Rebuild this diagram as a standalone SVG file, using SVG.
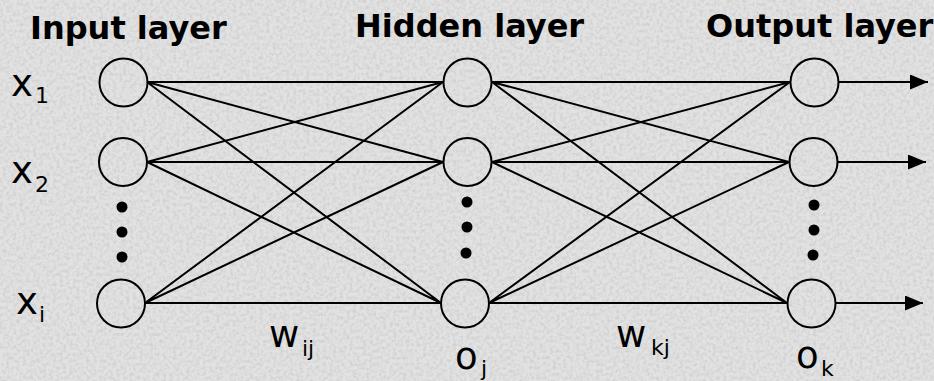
<svg xmlns="http://www.w3.org/2000/svg" width="934" height="381" viewBox="0 0 934 381">
<style>
.title{font-family:"DejaVu Sans",Verdana,sans-serif;font-weight:bold;font-size:32px;fill:#000}
.lbl{font-family:"DejaVu Sans",Verdana,sans-serif;font-size:37px;fill:#000}
.sub{font-size:22px}
.node{fill:none;stroke:#000;stroke-width:2}
.dot{fill:#000}
.edge{stroke:#000;stroke-width:2;fill:none}
</style>
<defs>
<filter id="noise" x="0" y="0" width="100%" height="100%">
<feTurbulence type="fractalNoise" baseFrequency="0.3" numOctaves="3" seed="7"/>
<feColorMatrix type="matrix" values="0 0 0 0 0.4  0 0 0 0 0.4  0 0 0 0 0.4  0 0 0 1.3 -0.5"/>
</filter>
<marker id="arr" viewBox="0 0 18 15" refX="18" refY="7.5" markerWidth="18" markerHeight="15" markerUnits="userSpaceOnUse" orient="auto">
<path d="M0,0 L18,7.5 L0,15 Z" fill="#000"/>
</marker>
</defs>
<rect width="934" height="381" fill="#e2e2e2"/>
<rect width="934" height="381" filter="url(#noise)" opacity="0.55"/>

<g id="titles">
<text class="title" x="30" y="39">Input layer</text>
<text class="title" x="355" y="37">Hidden layer</text>
<text class="title" x="706" y="37">Output layer</text>
</g>

<g id="connectors">
<path class="edge" d="M147,82 L443,82 M147,82 L443,162 M147,82 L441,303 M147,162 L443,82 M147,162 L443,162 M147,162 L441,303 M145,303 L443,82 M145,303 L443,162 M145,303 L441,303"/>
<path class="edge" d="M492,82 L790,82 M492,82 L789,162 M492,82 L787,303 M492,162 L790,82 M492,162 L789,162 M492,162 L787,303 M489,303 L790,82 M489,303 L789,162 M489,303 L787,303"/>
<line class="edge" x1="839" y1="82" x2="928" y2="82" marker-end="url(#arr)"/>
<line class="edge" x1="838" y1="162" x2="926" y2="162" marker-end="url(#arr)"/>
<line class="edge" x1="836" y1="303" x2="923" y2="303" marker-end="url(#arr)"/>
</g>

<g id="input1"><circle class="node" cx="123.5" cy="82.5" r="24"/><text class="lbl" x="11" y="96">x<tspan class="sub" x="35" y="103">1</tspan></text></g>
<g id="input2"><circle class="node" cx="123" cy="162" r="24"/><text class="lbl" x="11" y="183">x<tspan class="sub" x="35" y="192">2</tspan></text></g>
<g id="input-dots"><circle class="dot" cx="122" cy="207" r="5.5"/><circle class="dot" cx="122" cy="232" r="5.5"/><circle class="dot" cx="122" cy="257" r="5.5"/></g>
<g id="inputi"><circle class="node" cx="121" cy="303.5" r="24"/><text class="lbl" x="16" y="314">x<tspan class="sub" x="39" y="322">i</tspan></text></g>

<g id="hidden1"><circle class="node" cx="467.5" cy="82.5" r="24"/></g>
<g id="hidden2"><circle class="node" cx="467.5" cy="162" r="24"/></g>
<g id="hidden-dots"><circle class="dot" cx="467" cy="202" r="5.5"/><circle class="dot" cx="467" cy="227" r="5.5"/><circle class="dot" cx="466" cy="253" r="5.5"/></g>
<g id="hiddenj"><circle class="node" cx="465" cy="303.5" r="24"/><text class="lbl" x="455" y="369">o<tspan class="sub" x="481" y="376">j</tspan></text></g>

<g id="output1"><circle class="node" cx="814.5" cy="82.5" r="24"/></g>
<g id="output2"><circle class="node" cx="813.5" cy="162" r="24"/></g>
<g id="output-dots"><circle class="dot" cx="814" cy="205" r="5.5"/><circle class="dot" cx="814" cy="230" r="5.5"/><circle class="dot" cx="813" cy="255" r="5.5"/></g>
<g id="outputk"><circle class="node" cx="811.5" cy="303.5" r="24"/><text class="lbl" x="796" y="368">o<tspan class="sub" x="821" y="376">k</tspan></text></g>

<g id="weights">
<text class="lbl" x="269" y="347">w<tspan class="sub" x="302" y="356">ij</tspan></text>
<text class="lbl" x="616" y="347">w<tspan class="sub" x="651" y="355">kj</tspan></text>
</g>
</svg>
